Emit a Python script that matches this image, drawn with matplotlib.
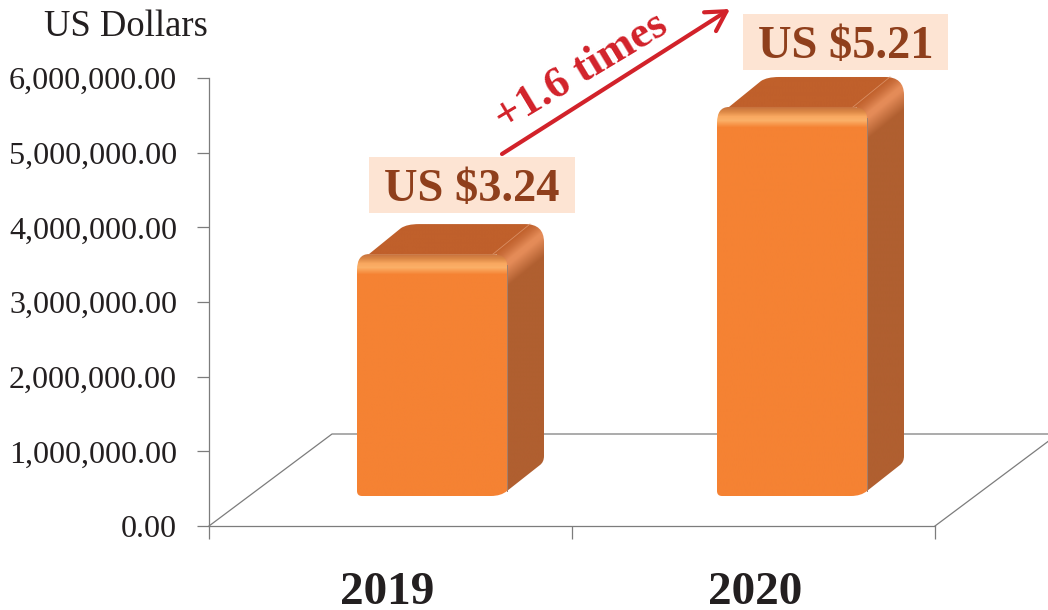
import numpy as np
import matplotlib
matplotlib.use("Agg")
import matplotlib.pyplot as plt
from matplotlib.path import Path
from matplotlib.patches import PathPatch, Rectangle, FancyArrowPatch
from matplotlib.colors import to_rgb
from matplotlib.lines import Line2D

plt.rcParams['font.family'] = ['Liberation Serif', 'DejaVu Serif']

# ---- data
categories = ['2019', '2020']
values = [3240000.0, 5210000.0]
value_labels = ['US $3.24', 'US $5.21']
y_ticks = [0, 1000000, 2000000, 3000000, 4000000, 5000000, 6000000]
y_max = 6000000
y_title = 'US Dollars'
growth_label = '+1.6 times'

# ---- layout (pixels)
W, H = 1048, 610
AX_L, AX_R, AX_T, AX_B = 209, 935, 78, 526
GREY = '#7c7c7c'
FRONT = '#F58233'
TOP = '#C0602B'
SIDE = '#B05F30'
RED = '#D2222A'

fig = plt.figure(figsize=(W / 100, H / 100), dpi=100)
ax = fig.add_axes([AX_L / W, 1 - AX_B / H, (AX_R - AX_L) / W, (AX_B - AX_T) / H])
ax.patch.set_alpha(0)
n = len(categories)
pxx = (AX_R - AX_L) / n       # pixels per category
pxy = (AX_B - AX_T) / y_max   # pixels per dollar
xlim = (0, n)
ylim = (0, y_max)

for s in ['top', 'right']:
    ax.spines[s].set_visible(False)
for s in ['left', 'bottom']:
    ax.spines[s].set_color(GREY)
    ax.spines[s].set_linewidth(0.9)

ax.set_yticks(y_ticks)
ax.set_yticklabels([f'{v:,.2f}' for v in y_ticks], fontsize=23.1)
ax.tick_params(axis='y', length=9, width=0.9, color=GREY, pad=14, labelcolor='#231f20')
ax.set_xticks(np.arange(n + 1))
ax.set_xticklabels([])
LABEL_SHIFT = np.array([-3.0, 2.0])
ax.set_xticks(np.arange(n) + 0.5 + LABEL_SHIFT / pxx, minor=True)
ax.set_xticklabels(categories, minor=True, fontsize=34, fontweight='bold', color='#231f20')
ax.tick_params(axis='x', which='major', length=9, width=0.9, color=GREY)
ax.tick_params(axis='x', which='minor', length=0, pad=33)

# floor parallelogram
FLOOR_DX, FLOOR_DY = 123, 92
fx = FLOOR_DX / pxx
fy = FLOOR_DY / pxy
ax.add_line(Line2D([0, fx, n + fx], [0, fy, fy], color=GREY, lw=0.9, clip_on=False, zorder=1))
ax.add_line(Line2D([n, n + fx], [0, fy], color=GREY, lw=0.9, clip_on=False, zorder=1))


def ramp(t, stops):
    xs = [s[0] for s in stops]
    cols = np.array([to_rgb(s[1]) for s in stops])
    return np.stack([np.interp(t, xs, cols[:, i]) for i in range(3)], axis=-1)


BAR_W = 150
LIFT = 30
BAR_SHIFT = [-33.5, -36.5]
DX, DY = 37, 30

FRONT_STOPS = [(-20, FRONT), (-13, '#FBB068'), (-9, '#F9A860'), (-4, '#DB8745'), (0, '#C8733E')]
BODY_STOPS = [(0, TOP), (6, '#CB6F3C'), (14, '#E58C58'), (18, '#E48B58'), (34, SIDE)]

for i, val in enumerate(values):
    cat_x = i + 0.5 + BAR_SHIFT[i] / pxx
    top_y = val + LIFT / pxy
    h = val * pxy

    def P(u, v):
        return (cat_x + u / pxx, top_y + v / pxy)

    # top + side body (runs under the front face so no gap shows at its rounded corner)
    body = [(Path.MOVETO, (12, 0)), (Path.LINETO, (44, 26)),
            (Path.CURVE3, (50, 30)), (Path.CURVE3, (62, 30)),
            (Path.LINETO, (168, 30)), (Path.CURVE3, (187, 30)), (Path.CURVE3, (187, 12)),
            (Path.LINETO, (187, -h + 40)), (Path.CURVE3, (187, -h + 34)), (Path.CURVE3, (183, -h + 31)),
            (Path.LINETO, (150, -h + 5)), (Path.LINETO, (140, -h + 5)), (Path.LINETO, (140, 0)),
            (Path.CLOSEPOLY, (12, 0))]
    pth = Path([P(*p) for _, p in body], [c for c, _ in body])
    clip = PathPatch(pth, fc='none', ec='none', zorder=2, clip_on=False)
    ax.add_patch(clip)
    us = np.arange(0, 190.5, 1.0)
    vs = np.arange(-h - 2, 32.5, 1.0)
    uu, vv = np.meshgrid(us, vs)
    t = ((uu - 136) * 30 - vv * 37) / np.hypot(30, 37)
    im = ax.imshow(ramp(t, BODY_STOPS), origin='lower', aspect='auto', interpolation='bilinear',
                   extent=(P(us[0], 0)[0], P(us[-1], 0)[0], P(0, vs[0])[1], P(0, vs[-1])[1]),
                   zorder=2.1)
    im.set_clip_box(fig.bbox)
    im.set_clip_path(clip)

    # front face
    front = [(Path.MOVETO, (12, 0)), (Path.LINETO, (136, 0)), (Path.CURVE3, (150, 0)), (Path.CURVE3, (150, -11)),
             (Path.LINETO, (150, -h + 5)), (Path.CURVE3, (144, -h)), (Path.CURVE3, (134, -h)),
             (Path.LINETO, (5, -h)), (Path.CURVE3, (0, -h)), (Path.CURVE3, (0, -h + 5)),
             (Path.LINETO, (0, -16)), (Path.CURVE3, (0, 0)), (Path.CURVE3, (12, 0)), (Path.CLOSEPOLY, (12, 0))]
    pth = Path([P(*p) for _, p in front], [c for c, _ in front])
    clip = PathPatch(pth, fc='none', ec='none', zorder=3, clip_on=False)
    ax.add_patch(clip)
    us = np.array([0.0, 151.0])
    vs = np.arange(-h - 1, 1.5, 1.0)
    uu, vv = np.meshgrid(us, vs)
    im = ax.imshow(ramp(vv, FRONT_STOPS), origin='lower', aspect='auto', interpolation='bilinear',
                   extent=(P(us[0], 0)[0], P(us[-1], 0)[0], P(0, vs[0])[1], P(0, vs[-1])[1]),
                   zorder=3.1)
    im.set_clip_box(fig.bbox)
    im.set_clip_path(clip)

    # thin edges
    ax.add_line(Line2D(*zip(P(136, 0), P(136 + DX, DY)), color='#D98E63', lw=0.6, zorder=4, clip_on=False))
    ax.add_line(Line2D(*zip(P(150, -11), P(150, -h + 5)), color='#A3806C', lw=0.7, zorder=4, clip_on=False))

ax.set_xlim(*xlim)
ax.set_ylim(*ylim)


def fp(x, y):
    return (x / W, 1 - y / H)


# ---- annotations
BOXES = [(369, 157, 206, 56), (743, 14, 205, 56)]
for (bx, by, bw, bh), lab in zip(BOXES, value_labels):
    ax.add_patch(Rectangle(fp(bx, by + bh), bw / W, bh / H, transform=fig.transFigure,
                           fc='#FDE4D3', ec='none', clip_on=False, zorder=5))
    ax.text(*fp(bx + bw / 2, by + bh / 2 + 5), lab, transform=fig.transFigure, ha='center', va='center',
            fontsize=33.5, fontweight='bold', color='#8F3F1C', zorder=6, clip_on=False)

ax.text(*fp(126, 27), y_title, transform=fig.transFigure, ha='center', va='center',
        fontsize=26.4, color='#231f20', clip_on=False)

ax.add_patch(FancyArrowPatch(fp(502, 154), fp(730, 9), transform=fig.transFigure,
                             arrowstyle='->,head_length=14,head_width=8', color=RED, lw=3,
                             shrinkA=0, shrinkB=0, clip_on=False, zorder=6, mutation_scale=1))
ax.text(*fp(581, 72), growth_label, transform=fig.transFigure, ha='center', va='center',
        rotation=31, rotation_mode='anchor', fontsize=32, fontweight='bold', color=RED,
        zorder=6, clip_on=False)

fig.savefig('out.png', dpi=100)
